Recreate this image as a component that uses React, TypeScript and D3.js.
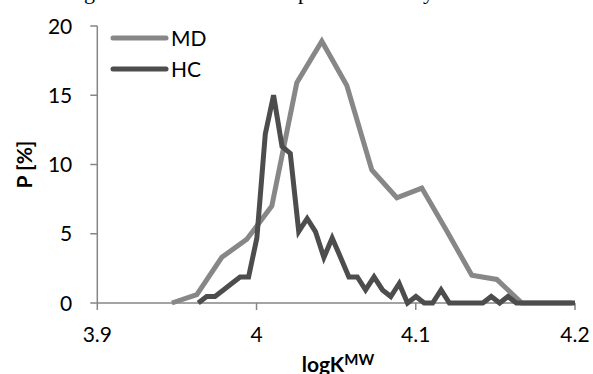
import React from 'react';
import * as d3 from 'd3';

// bin centres (logK^MW) and percentages
const mdX = [3.9468, 3.9625, 3.9782, 3.9939, 4.0096, 4.0253, 4.041, 4.0567, 4.0724, 4.0881, 4.1038, 4.1195, 4.1352, 4.1509, 4.1666, 4.1823, 4.198];
const mdP = [0, 0.6, 3.3, 4.6, 7.0, 15.9, 18.9, 15.7, 9.6, 7.6, 8.3, 5.2, 2.0, 1.7, 0, 0, 0];

const hcX = [
  3.9634, 3.9687, 3.9739, 3.9792, 3.9844, 3.9897, 3.995, 4.0002, 4.0055, 4.0107,
  4.016, 4.0212, 4.0265, 4.0318, 4.037, 4.0423, 4.0475, 4.0528, 4.058, 4.0633,
  4.0685, 4.0738, 4.0791, 4.0843, 4.0896, 4.0948, 4.1001, 4.1053, 4.1106, 4.1159,
  4.1211, 4.1264, 4.1316, 4.1369, 4.1421, 4.1474, 4.1527, 4.1579, 4.1632, 4.1684,
  4.1737, 4.1789, 4.1842, 4.1895, 4.1947, 4.2
];
const hcP = [
  0, 0.47, 0.47, 0.94, 1.41, 1.88, 1.88, 4.69, 12.2, 15.0,
  11.3, 10.8, 5.16, 6.1, 5.16, 3.29, 4.69, 3.29, 1.88, 1.88,
  0.94, 1.88, 0.94, 0.47, 1.41, 0, 0.47, 0, 0, 0.94,
  0, 0, 0, 0, 0, 0.47, 0, 0.47, 0, 0,
  0, 0, 0, 0, 0, 0
];

const xTicks = [3.9, 4.0, 4.1, 4.2];
const xTickLabels = ['3.9', '4', '4.1', '4.2'];
const yTicks = [0, 5, 10, 15, 20];

const seriesNames = ['MD', 'HC'];
const colors = ['#878787', '#4d4d4d'];

const W = 593;
const H = 374;
const font = 'Lato, "Open Sans", sans-serif';

export default function App() {
  const x = d3.scaleLinear().domain([3.9, 4.2]).range([97.3, 575]);
  const y = d3.scaleLinear().domain([0, 20]).range([303, 26]);

  const line = d3.line<[number, number]>()
    .x(d => x(d[0]))
    .y(d => y(d[1]));

  const md = mdX.map((v, i) => [v, mdP[i]] as [number, number]);
  const hc = hcX.map((v, i) => [v, hcP[i]] as [number, number]);
  const paths = [line(md), line(hc)];

  const axisColor = '#868686';

  return (
    <div>
      <style>{'body{margin:0}'}</style>
      <svg width={W} height={H} style={{ display: 'block', overflow: 'hidden', background: '#fff' }}>
        {/* bits of the caption line above the figure */}
        <g fontFamily='"Liberation Serif", serif' fontSize={22} fill="#000">
          <text x={84} y={-1}>g</text>
          <text x={298} y={-1}>p</text>
          <text x={423} y={-1}>y</text>
        </g>

        {/* y axis */}
        <line x1={x(3.9)} x2={x(3.9)} y1={y(20)} y2={y(0)} stroke={axisColor} strokeWidth={1.5} />
        {yTicks.map(t => (
          <g key={'y' + t}>
            <line x1={x(3.9) - 7} x2={x(3.9)} y1={y(t)} y2={y(t)} stroke={axisColor} strokeWidth={1.5} />
            <text x={x(3.9) - 25} y={y(t)} dy="0.36em" textAnchor="end" fontFamily={font} fontSize={21} fill="#000">{t}</text>
          </g>
        ))}

        {/* x axis */}
        <line x1={x(3.9)} x2={x(4.2)} y1={y(0)} y2={y(0)} stroke={axisColor} strokeWidth={1.5} />
        {xTicks.map((t, i) => (
          <g key={'x' + t}>
            <line x1={x(t)} x2={x(t)} y1={y(0)} y2={y(0) + 7} stroke={axisColor} strokeWidth={1.5} />
            <text x={x(t)} y={y(0) + 39} textAnchor="middle" fontFamily={font} fontSize={21} fill="#000">{xTickLabels[i]}</text>
          </g>
        ))}

        {/* series */}
        {paths.map((p, i) => (
          <path key={seriesNames[i]} d={p || ''} fill="none" stroke={colors[i]} strokeWidth={5} />
        ))}

        {/* legend */}
        {seriesNames.map((n, i) => (
          <g key={'lg' + n} transform={`translate(113, ${38 + i * 31})`}>
            <line x1={0} x2={53} y1={0} y2={0} stroke={colors[i]} strokeWidth={5} strokeLinecap="round" />
            <text x={58} y={0} dy="0.36em" fontFamily={font} fontSize={21} fill="#000">{n}</text>
          </g>
        ))}

        {/* axis titles */}
        <text transform={`translate(32, ${y(10)}) rotate(-90)`} textAnchor="middle" fontFamily={font} fontSize={21} fontWeight="bold" fill="#000">P [%]</text>
        <text x={338} y={372} textAnchor="middle" fontFamily={font} fontSize={21} fontWeight="bold" fill="#000">
          logK<tspan fontSize={15} dy={-7}>MW</tspan>
        </text>
      </svg>
    </div>
  );
}
